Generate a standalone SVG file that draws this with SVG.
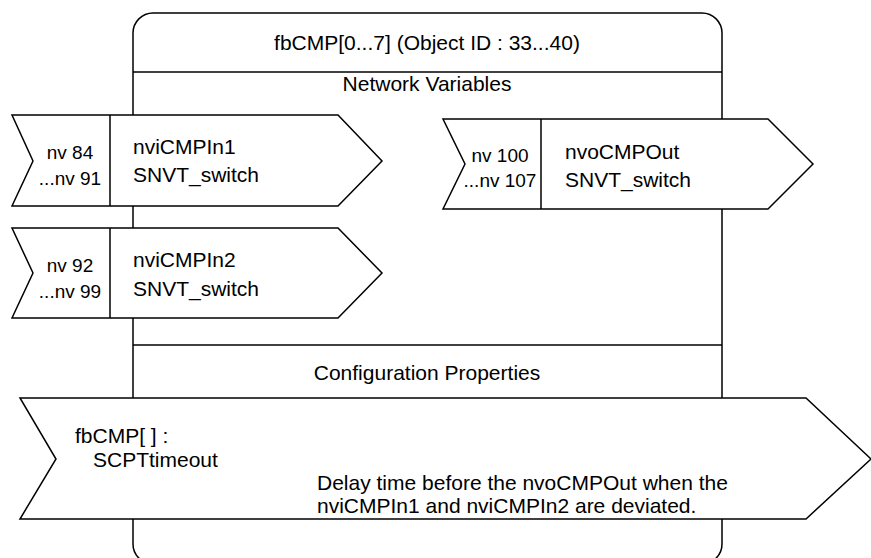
<svg xmlns="http://www.w3.org/2000/svg" width="871" height="558" viewBox="0 0 871 558">
<style>
.ln{fill:none;stroke:#000;stroke-width:1.5}
.bx{fill:#fff;stroke:#000;stroke-width:1.5;stroke-linejoin:miter}
.t{font-family:"Liberation Sans",Arial,sans-serif;font-size:21px;fill:#000}
.s{font-size:19px}
.c{text-anchor:middle}
</style>
<rect width="871" height="558" fill="#fff"/>
<g id="frame">
<rect class="ln" x="133" y="13" width="589" height="551" rx="20" ry="20"/>
<line class="ln" x1="133" y1="72" x2="722" y2="72"/>
<line class="ln" x1="133" y1="345" x2="722" y2="345"/>
<text class="t c" x="427" y="50">fbCMP[0...7] (Object ID : 33...40)</text>
<text class="t c" x="427" y="91">Network Variables</text>
<text class="t c" x="427" y="380">Configuration Properties</text>
</g>
<g id="connectors"></g>
<g id="nviCMPIn1">
<polygon class="bx" points="12,115 338,115 382,161 338,206 12,206 33,161"/>
<line class="ln" x1="110" y1="115" x2="110" y2="206"/>
<text class="t s c" x="70" y="159">nv 84</text>
<text class="t s c" x="70" y="185">...nv 91</text>
<text class="t" x="133" y="154">nviCMPIn1</text>
<text class="t" x="133" y="182">SNVT_switch</text>
</g>
<g id="nviCMPIn2">
<polygon class="bx" points="12,228 338,228 382,273 338,318 12,318 33,273"/>
<line class="ln" x1="110" y1="228" x2="110" y2="318"/>
<text class="t s c" x="70" y="272">nv 92</text>
<text class="t s c" x="70" y="298">...nv 99</text>
<text class="t" x="133" y="267">nviCMPIn2</text>
<text class="t" x="133" y="296">SNVT_switch</text>
</g>
<g id="nvoCMPOut">
<polygon class="bx" points="443,119 768,119 813,164 768,209 443,209 465,164"/>
<line class="ln" x1="541" y1="119" x2="541" y2="209"/>
<text class="t s c" x="500" y="162">nv 100</text>
<text class="t s c" x="500" y="187">...nv 107</text>
<text class="t" x="565" y="159">nvoCMPOut</text>
<text class="t" x="565" y="187">SNVT_switch</text>
</g>
<g id="SCPTtimeout">
<polygon class="bx" points="20,398 806,398 871,459 806,519 20,519 56,459"/>
<text class="t" x="75" y="443">fbCMP[ ] :</text>
<text class="t" x="93" y="467">SCPTtimeout</text>
<text class="t" x="317" y="490">Delay time before the nvoCMPOut when the</text>
<text class="t" x="317" y="513">nviCMPIn1 and nviCMPIn2 are deviated.</text>
</g>
</svg>
